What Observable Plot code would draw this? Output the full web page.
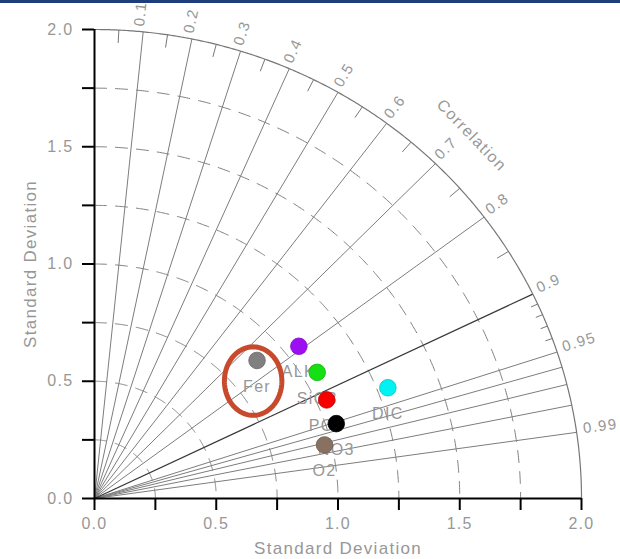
<!DOCTYPE html>
<html>
<head>
<meta charset="utf-8">
<script src="https://cdn.jsdelivr.net/npm/d3@7"></script>
<script src="https://cdn.jsdelivr.net/npm/@observablehq/plot@0.6"></script>
<style>
  html, body { margin: 0; padding: 0; background: #fff; }
  #bar { height: 3px; background: #1d3e7b; }
  #chart svg text { letter-spacing: 1.3px; }
</style>
</head>
<body>
<div id="bar"></div>
<div id="chart"></div>
<script>
// ---- data ----
const names = ["Fer", "ALK", "SiO3", "PO4", "NO3", "O2", "DIC"];
const stdDev = [0.890, 1.061, 1.061, 1.042, 1.043, 0.972, 1.294];
const correlation = [0.750, 0.791, 0.862, 0.915, 0.952, 0.972, 0.931];
const markerColors = ["#808080", "#9b0ff2", "#14e014", "#f80000", "#000000", "#8a7060", "#00f2f2"];

const corrRays = [0.1, 0.2, 0.3, 0.4, 0.5, 0.6, 0.7, 0.8, 0.9, 0.95, 0.96, 0.97, 0.98, 0.99];
const corrLabels = ["0.1", "0.2", "0.3", "0.4", "0.5", "0.6", "0.7", "0.8", "0.9", "0.95", "0.99"];
const corrMinor = [0.05, 0.15, 0.25, 0.35, 0.45, 0.55, 0.65, 0.75, 0.85, 0.91, 0.92, 0.93, 0.94];
const stdTicks = [0, 0.25, 0.5, 0.75, 1, 1.25, 1.5, 1.75, 2];
const stdArcs = [0.25, 0.5, 0.75, 1, 1.25, 1.5, 1.75];
const stdMax = 2;
const highlightName = "Fer";

// ---- layout ----
const W = 620, H = 556;
const mL = 94, mR = 39, mT = 26, mB = 61;
const sx = (W - mL - mR) / stdMax, sy = (H - mT - mB) / stdMax;
const grey = "#979797";
const font = "'Liberation Sans', Arial, sans-serif";

const polar = (r, c) => ({x: r * c, y: r * Math.sqrt(Math.max(0, 1 - c * c))});
const screenAngle = c => Math.atan2(Math.sqrt(1 - c * c) * sy, c * sx) * 180 / Math.PI;

const points = names.map((n, i) => ({name: n, color: markerColors[i], ...polar(stdDev[i], correlation[i])}));

const arcPts = r => d3.range(90, -0.01, -0.25).map(a => ({r, x: r * Math.cos(a * Math.PI / 180), y: r * Math.sin(a * Math.PI / 180)}));
const dashed = stdArcs.flatMap(arcPts);
const outer = arcPts(stdMax);

// ellipse around highlighted point
const hp = points.find(p => p.name === highlightName);
const ell = d3.range(0, 360, 3).map(a => ({
  x: hp.x - 0.016 + 0.118 * Math.cos(a * Math.PI / 180),
  y: hp.y - 0.088 + 0.146 * Math.sin(a * Math.PI / 180)
}));

const plot = Plot.plot({
  width: W, height: H,
  marginLeft: mL, marginRight: mR, marginTop: mT, marginBottom: mB,
  x: {domain: [0, stdMax], axis: null},
  y: {domain: [0, stdMax], axis: null},
  color: {type: "identity"},
  style: {fontFamily: font, background: "#fff", overflow: "visible"},
  marks: [
    Plot.line(dashed, {x: "x", y: "y", z: "r", stroke: "#808080", strokeWidth: 1, strokeDasharray: "12,9"}),
    Plot.link(corrRays.filter(c => c !== 0.9), {
      x1: 0, y1: 0,
      x2: c => polar(stdMax, c).x, y2: c => polar(stdMax, c).y,
      stroke: "#7d7d7d", strokeWidth: 1
    }),
    Plot.link([0.9], {
      x1: 0, y1: 0,
      x2: c => polar(stdMax, c).x, y2: c => polar(stdMax, c).y,
      stroke: "#3a3a3a", strokeWidth: 1.3
    }),
    Plot.line(outer, {x: "x", y: "y", stroke: "#777", strokeWidth: 1.2}),
    Plot.link(corrMinor, {
      x1: c => polar(stdMax, c).x, y1: c => polar(stdMax, c).y,
      x2: c => polar(c > 0.9 ? stdMax - 0.03 : stdMax - 0.055, c).x,
      y2: c => polar(c > 0.9 ? stdMax - 0.03 : stdMax - 0.055, c).y,
      stroke: "#777", strokeWidth: 1
    }),
    Plot.text(corrLabels, {
      x: d => polar(2.03, +d).x, y: d => polar(2.03, +d).y,
      text: d => d, rotate: d => -screenAngle(+d),
      textAnchor: "start", lineAnchor: "bottom", dy: 2,
      fill: grey, fontSize: 15
    }),
    Plot.text(["Correlation"], {
      x: polar(2.19, Math.SQRT1_2).x, y: polar(2.19, Math.SQRT1_2).y,
      text: d => d, rotate: 90 - screenAngle(Math.SQRT1_2),
      fill: grey, fontSize: 16
    }),
    // axes
    Plot.ruleY([0], {x1: 0, x2: stdMax, stroke: "#000", strokeWidth: 2}),
    Plot.ruleX([0], {y1: 0, y2: stdMax, stroke: "#000", strokeWidth: 2}),
    Plot.axisX({
      ticks: stdTicks, tickSize: 12, tickPadding: 7, anchor: "bottom",
      tickFormat: d => (Math.round(d * 4) % 2 === 0 ? d.toFixed(1) : ""),
      color: grey, stroke: "#000", strokeWidth: 2, fontSize: 16, label: null
    }),
    Plot.axisY({
      ticks: stdTicks, tickSize: 12, tickPadding: 9, anchor: "left",
      tickFormat: d => (Math.round(d * 4) % 2 === 0 ? d.toFixed(1) : ""),
      color: grey, stroke: "#000", strokeWidth: 2, fontSize: 16, label: null
    }),
    Plot.text(["Standard Deviation"], {x: 1, y: 0, dy: 50, text: d => d, fill: grey, fontSize: 17}),
    Plot.text(["Standard Deviation"], {x: 0, y: 1, dx: -64, rotate: -90, text: d => d, fill: grey, fontSize: 17}),
    // points
    Plot.text(points, {x: "x", y: "y", text: "name", dy: 26, fill: grey, fontSize: 16}),
    Plot.dot(points, {x: "x", y: "y", r: 8.3, fill: "color", stroke: d => d3.color(d.color).darker(0.6).formatHex(), strokeWidth: 0.8}),
    Plot.line(ell, {x: "x", y: "y", curve: "linear-closed", stroke: "#c84a2c", strokeWidth: 5})
  ]
});
document.getElementById("chart").appendChild(plot);
</script>
</body>
</html>
